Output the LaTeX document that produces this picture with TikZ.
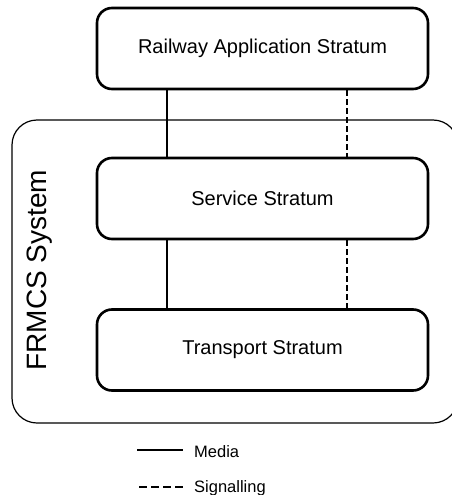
\documentclass[tikz,border=0pt]{standalone}
\usepackage{fontspec}
\setmainfont{Liberation Sans}
\usetikzlibrary{positioning}
\tikzstyle{stratum}=[draw,line width=2.6pt,rounded corners=15pt,minimum width=331pt,minimum height=81pt,inner sep=0pt,font=\fontsize{20}{24}\selectfont]
\tikzstyle{system}=[draw,line width=1.2pt,rounded corners=25pt]
\tikzstyle{media}=[draw,line width=2.4pt]
\tikzstyle{signalling}=[draw,line width=2.4pt,dash pattern=on 6pt off 3pt]
\tikzstyle{legend}=[anchor=base west,inner sep=0pt,font=\fontsize{16.5}{20}\selectfont]

\begin{document}
\begin{tikzpicture}[x=1pt,y=-1pt]
    \useasboundingbox (0,0) rectangle (451,495);

    % FRMCS system frame
    \path[system] (12,120) rectangle (458,423);
    \node[rotate=90,anchor=base,inner sep=0pt,font=\fontsize{28}{32}\selectfont] (sys) at (46,270) {FRMCS System};

    % strata
    \foreach \pos/\name/\label in {{(262.5,48.5)/app/Railway Application Stratum}, {(262.5,198.5)/srv/Service Stratum}, {(262.5,350)/trn/Transport Stratum}}
        \node[stratum] (\name) at \pos {\label};

    \coordinate (mx) at (167,0);
    \coordinate (sx) at (347,0);
    \foreach \source/\dest in {app/srv, srv/trn}
    {
        \path[media] (\source.south -| mx) -- (\dest.north -| mx);
        \path[signalling] (\source.south -| sx) -- (\dest.north -| sx);
    }

    % legend
    \node[legend] (medialbl) at (194,457) {Media};
    \node[legend] (siglbl) at (194,492) {Signalling};
    \coordinate (mediastart) at (137,450);
    \coordinate (sigstart) at (139,487);
    \path[media] (mediastart) -- (mediastart -| 183,0);
    \path[signalling, dash pattern=on 8pt off 4pt] (sigstart) -- (sigstart -| 183,0);
\end{tikzpicture}
\end{document}
